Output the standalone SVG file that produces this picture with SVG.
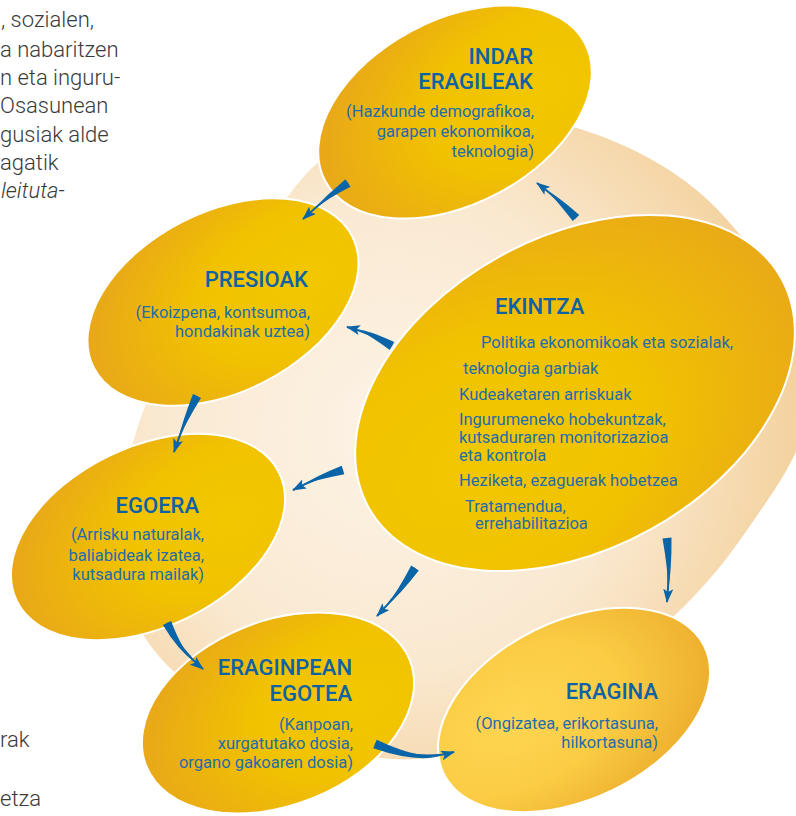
<svg xmlns="http://www.w3.org/2000/svg" width="796" height="816" viewBox="0 0 796 816">
  <defs>
    <!-- pale backdrop -->
    <radialGradient id="paleFill" gradientUnits="userSpaceOnUse" cx="390" cy="430" r="430">
      <stop offset="0" stop-color="#fcf3e6"/>
      <stop offset="0.55" stop-color="#fae9d1"/>
      <stop offset="1" stop-color="#f3cf98"/>
    </radialGradient>
    <!-- yellow towards the right, gold on the left -->
    <radialGradient id="goldLeft" cx="0.78" cy="0.6" r="0.85">
      <stop offset="0" stop-color="#f2c700"/>
      <stop offset="0.45" stop-color="#f1c200"/>
      <stop offset="1" stop-color="#e7a41d"/>
    </radialGradient>
    <!-- yellow towards the left, gold on the right -->
    <radialGradient id="goldRight" cx="0.25" cy="0.55" r="0.85">
      <stop offset="0" stop-color="#f2c700"/>
      <stop offset="0.45" stop-color="#f1c200"/>
      <stop offset="1" stop-color="#e7a41d"/>
    </radialGradient>
    <!-- lighter warm yellow -->
    <radialGradient id="lightYellow" cx="0.3" cy="0.4" r="0.85">
      <stop offset="0" stop-color="#fed652"/>
      <stop offset="0.45" stop-color="#fbcc44"/>
      <stop offset="1" stop-color="#e8a526"/>
    </radialGradient>
    <marker id="head" viewBox="0 -5 14 10" refX="13" refY="0" markerWidth="14" markerHeight="10" markerUnits="userSpaceOnUse" orient="auto">
      <path d="M0,-5 L14,0 L0,5 L3,0 Z" fill="#0a64a8"/>
    </marker>
    <style>
      .bubble { stroke: #ffffff; stroke-width: 2; }
      .title { font-family: Roboto, "Noto Sans", sans-serif; font-weight: 500; font-size: 22px; fill: #0d62a5; }
      .body { font-family: Roboto, "Noto Sans", sans-serif; font-size: 16.5px; fill: #1f6dac; }
      .page { font-family: Roboto, "Noto Sans", sans-serif; font-weight: 300; font-size: 22px; fill: #3a3a3a; }
      .wedge { fill: #0a64a8; }
      .spine { fill: none; stroke: #0a64a8; stroke-width: 2; marker-end: url(#head); }
    </style>
  </defs>

  <rect width="796" height="816" fill="#ffffff"/>

  <!-- running text of the page -->
  <g id="page-text">
    <text class="page" x="1" y="27">, sozialen,</text>
    <text class="page" x="0" y="57">a nabaritzen</text>
    <text class="page" x="0" y="85">n eta inguru-</text>
    <text class="page" x="0" y="113">Osasunean</text>
    <text class="page" x="0" y="142">gusiak alde</text>
    <text class="page" x="0" y="170">agatik</text>
    <text class="page" x="1" y="198" font-style="italic">leituta-</text>
    <text class="page" x="0" y="747">rak</text>
    <text class="page" x="0" y="806">etza</text>
  </g>

  <!-- pale backdrop behind the cycle -->
  <path id="backdrop" fill="url(#paleFill)" d="M573,127 C614.7,138.8 663.3,161.3 700,193 C736.7,224.7 775.5,278.3 793,317 C810.5,355.7 812.7,389.5 805,425 C797.3,460.5 769,498 747,530 C725,562 704.2,587.8 673,617 C641.8,646.2 600.5,681.5 560,705 C519.5,728.5 473.3,752.5 430,758 C386.7,763.5 343.3,753 300,738 C256.7,723 200.3,697.7 170,668 C139.7,638.3 123,601.3 118,560 C113,518.7 126.3,460 140,420 C153.7,380 177.2,355 200,320 C222.8,285 253.7,238.7 277,210 C300.3,181.3 311.2,162.7 340,148 C368.8,133.3 411.2,125.5 450,122 C488.8,118.5 531.3,115.2 573,127 Z"/>

  <g id="indar">
    <ellipse class="bubble" fill="url(#goldLeft)" cx="455" cy="112" rx="147" ry="92" transform="rotate(-28 455 112)"/>
    <text class="title" text-anchor="end" x="533" y="64">INDAR</text>
    <text class="title" text-anchor="end" x="533" y="89">ERAGILEAK</text>
    <text class="body" text-anchor="end" x="534" y="117">(Hazkunde demografikoa,</text>
    <text class="body" text-anchor="end" x="534" y="137">garapen ekonomikoa,</text>
    <text class="body" text-anchor="end" x="534" y="157">teknologia)</text>
  </g>

  <g id="presioak">
    <ellipse class="bubble" fill="url(#goldLeft)" cx="223" cy="302" rx="145" ry="90" transform="rotate(-27 223 302)"/>
    <text class="title" text-anchor="end" x="308" y="287">PRESIOAK</text>
    <text class="body" text-anchor="end" x="310" y="318">(Ekoizpena, kontsumoa,</text>
    <text class="body" text-anchor="end" x="310" y="337">hondakinak uztea)</text>
  </g>

  <g id="ekintza">
    <ellipse class="bubble" fill="url(#goldRight)" cx="575" cy="393" rx="236" ry="156" transform="rotate(-29 575 393)"/>
    <text class="title" x="495" y="314">EKINTZA</text>
    <text class="body" x="481" y="348">Politika ekonomikoak eta sozialak,</text>
    <text class="body" x="463" y="374">teknologia garbiak</text>
    <text class="body" x="459" y="400">Kudeaketaren arriskuak</text>
    <text class="body" x="459" y="425">Ingurumeneko hobekuntzak,</text>
    <text class="body" x="459" y="443">kutsaduraren monitorizazioa</text>
    <text class="body" x="459" y="461">eta kontrola</text>
    <text class="body" x="459" y="486">Heziketa, ezaguerak hobetzea</text>
    <text class="body" x="465" y="512">Tratamendua,</text>
    <text class="body" x="475" y="529">errehabilitazioa</text>
  </g>

  <g id="egoera">
    <ellipse class="bubble" fill="url(#goldLeft)" cx="148" cy="537" rx="146" ry="90" transform="rotate(-26 148 537)"/>
    <text class="title" text-anchor="end" x="199" y="513">EGOERA</text>
    <text class="body" text-anchor="end" x="204" y="540">(Arrisku naturalak,</text>
    <text class="body" text-anchor="end" x="204" y="561">baliabideak izatea,</text>
    <text class="body" text-anchor="end" x="204" y="580">kutsadura mailak)</text>
  </g>

  <g id="eraginpean-egotea">
    <ellipse class="bubble" fill="url(#goldLeft)" cx="278" cy="713" rx="142" ry="92" transform="rotate(-22 278 713)"/>
    <text class="title" text-anchor="end" x="352" y="675">ERAGINPEAN</text>
    <text class="title" text-anchor="end" x="352" y="701">EGOTEA</text>
    <text class="body" text-anchor="end" x="353" y="730">(Kanpoan,</text>
    <text class="body" text-anchor="end" x="353" y="749">xurgatutako dosia,</text>
    <text class="body" text-anchor="end" x="353" y="768">organo gakoaren dosia)</text>
  </g>

  <g id="eragina">
    <ellipse class="bubble" fill="url(#lightYellow)" cx="574" cy="710" rx="145" ry="89" transform="rotate(-26 574 710)"/>
    <text class="title" text-anchor="end" x="658" y="699">ERAGINA</text>
    <text class="body" text-anchor="end" x="658" y="729">(Ongizatea, erikortasuna,</text>
    <text class="body" text-anchor="end" x="658" y="748">hilkortasuna)</text>
  </g>

  <!-- tapered arrows: a wedge for the tail and a thin spine ending in the head -->
  <g id="connectors">
    <g id="indar-presioak">
      <path class="wedge" d="M350.5,186.8 Q329,197.5 311.1,211.6 Q327,194.5 345.5,179.2 Z"/>
      <path class="spine" d="M348,183 Q328,196 303,219"/>
    </g>
    <g id="ekintza-indar">
      <path class="wedge" d="M579.3,214.9 Q558.3,196.8 545.8,189.6 Q555.7,199.2 572.7,221.1 Z"/>
      <path class="spine" d="M576,218 Q557,198 537,183"/>
    </g>
    <g id="ekintza-presioak">
      <path class="wedge" d="M394.3,342.1 Q368.9,330.4 357.7,329.5 Q367.1,333.6 389.7,349.9 Z"/>
      <path class="spine" d="M392,346 Q368,332 347,327"/>
    </g>
    <g id="presioak-egoera">
      <path class="wedge" d="M201,398 Q185.6,422.8 177.5,441.6 Q182.4,421.2 193,394 Z"/>
      <path class="spine" d="M197,396 Q184,422 174,452"/>
    </g>
    <g id="ekintza-egoera">
      <path class="wedge" d="M344.3,474.3 Q316.5,479.7 302.8,484.9 Q315.5,476.3 341.7,465.7 Z"/>
      <path class="spine" d="M343,470 Q316,478 293,490"/>
    </g>
    <g id="egoera-egotea">
      <path class="wedge" d="M171.1,621 Q181.6,649.2 194.5,662 Q178.4,650.8 162.9,625 Z"/>
      <path class="spine" d="M167,623 Q180,650 203,669"/>
    </g>
    <g id="ekintza-egotea">
      <path class="wedge" d="M418.8,570.4 Q400.5,594 384.6,608 Q397.5,592 411.2,565.6 Z"/>
      <path class="spine" d="M415,568 Q399,593 377,616"/>
    </g>
    <g id="ekintza-eragina">
      <path class="wedge" d="M671.5,537.6 Q671.8,569.8 668,591 Q668.2,570.2 662.5,538.4 Z"/>
      <path class="spine" d="M667,538 Q670,570 667,602"/>
    </g>
    <g id="egotea-eragina">
      <path class="wedge" d="M376.7,739.8 Q420.2,760.3 443.4,755.1 Q418.8,763.7 373.3,748.2 Z"/>
      <path class="spine" d="M375,744 Q419.5,762 454,752"/>
    </g>
  </g>
</svg>
